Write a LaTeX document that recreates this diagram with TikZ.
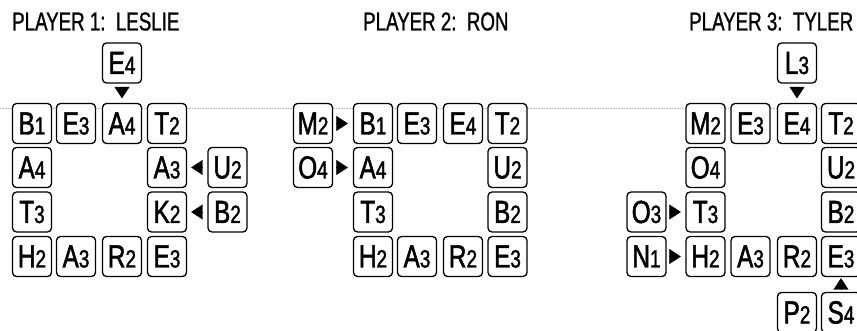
\documentclass[tikz,border=0pt]{standalone}
\usepackage{fontspec}
\setmainfont{Liberation Sans}
\newfontfamily\cond[FakeStretch=0.76,FakeBold=1.5]{Liberation Sans}
\newfontfamily\condt[FakeStretch=0.72,FakeBold=1]{Liberation Sans}
\usetikzlibrary{arrows.meta}
\newcommand{\tl}[2]{{\fontsize{32}{32}\selectfont #1}{\fontsize{25}{25}\selectfont #2}}
\tikzset{
  tile/.style={draw, line width=1.3pt, rounded corners=4pt, minimum width=39pt,
    minimum height=40pt, inner sep=0pt, fill=white, font=\cond,
    text height=22pt, text depth=0pt},
  title/.style={anchor=base west, inner sep=0pt, font=\condt\fontsize{26}{26}\selectfont},
  tri/.style={-{Triangle[length=11.5pt,width=15pt]}, line width=0.4pt},
  scanline/.style={gray!55, densely dotted, line width=0.6pt}
}
\begin{document}
\begin{tikzpicture}[x=1pt,y=-1pt]
\useasboundingbox (0,0) rectangle (857,331);
\clip (0,0) rectangle (857,331);
\def\ra{123.5}\def\rb{167.5}\def\rc{212}\def\rd{256.5}
% scan line
\coordinate (sl) at (0,108);
\coordinate (sr) at (857,108);
\draw[scanline] (sl) -- (sr);
% titles
\node[title] (t1) at (12,30.5) {PLAYER 1:\ \ LESLIE};
\node[title] (t2) at (363,30.5) {PLAYER 2:\ \ RON};
\node[title] (t3) at (689,30.5) {PLAYER 3:\ \ TYLER};
% Player 1
\node[tile] (p1e4) at (122,63) {\tl{E}{4}};
\node[tile] (p1b1) at (32,\ra) {\tl{B}{1}};
\node[tile] (p1e3) at (76,\ra) {\tl{E}{3}};
\node[tile] (p1a4) at (122,\ra) {\tl{A}{4}};
\node[tile] (p1t2) at (167,\ra) {\tl{T}{2}};
\node[tile] (p1a4b) at (32,\rb) {\tl{A}{4}};
\node[tile] (p1a3) at (167,\rb) {\tl{A}{3}};
\node[tile] (p1u2) at (227.5,\rb) {\tl{U}{2}};
\node[tile] (p1t3) at (32,\rc) {\tl{T}{3}};
\node[tile] (p1k2) at (167,\rc) {\tl{K}{2}};
\node[tile] (p1b2) at (227.5,\rc) {\tl{B}{2}};
\node[tile] (p1h2) at (32,\rd) {\tl{H}{2}};
\node[tile] (p1a3b) at (76,\rd) {\tl{A}{3}};
\node[tile] (p1r2) at (122,\rd) {\tl{R}{2}};
\node[tile] (p1e3b) at (167,\rd) {\tl{E}{3}};
\draw[tri, shorten <=5pt, shorten >=4.5pt] (p1e4) -- (p1a4);
\draw[tri, shorten <=6pt, shorten >=4pt] (p1u2) -- (p1a3);
\draw[tri, shorten <=6pt, shorten >=4pt] (p1b2) -- (p1k2);
% Player 2
\node[tile] (p2m2) at (313,\ra) {\tl{M}{2}};
\node[tile] (p2b1) at (373,\ra) {\tl{B}{1}};
\node[tile] (p2e3) at (417,\ra) {\tl{E}{3}};
\node[tile] (p2e4) at (463,\ra) {\tl{E}{4}};
\node[tile] (p2t2) at (507.5,\ra) {\tl{T}{2}};
\node[tile] (p2o4) at (313,\rb) {\tl{O}{4}};
\node[tile] (p2a4) at (373,\rb) {\tl{A}{4}};
\node[tile] (p2u2) at (507.5,\rb) {\tl{U}{2}};
\node[tile] (p2t3) at (373,\rc) {\tl{T}{3}};
\node[tile] (p2b2) at (507.5,\rc) {\tl{B}{2}};
\node[tile] (p2h2) at (373,\rd) {\tl{H}{2}};
\node[tile] (p2a3) at (417,\rd) {\tl{A}{3}};
\node[tile] (p2r2) at (463,\rd) {\tl{R}{2}};
\node[tile] (p2e3b) at (507.5,\rd) {\tl{E}{3}};
\draw[tri, shorten <=3pt, shorten >=5pt] (p2m2) -- (p2b1);
\draw[tri, shorten <=3pt, shorten >=5pt] (p2o4) -- (p2a4);
% Player 3
\node[tile] (p3l3) at (797,63) {\tl{L}{3}};
\node[tile] (p3m2) at (705.5,\ra) {\tl{M}{2}};
\node[tile] (p3e3) at (750.5,\ra) {\tl{E}{3}};
\node[tile] (p3e4) at (797,\ra) {\tl{E}{4}};
\node[tile] (p3t2) at (841,\ra) {\tl{T}{2}};
\node[tile] (p3o4) at (705.5,\rb) {\tl{O}{4}};
\node[tile] (p3u2) at (841,\rb) {\tl{U}{2}};
\node[tile] (p3o3) at (646.5,\rc) {\tl{O}{3}};
\node[tile] (p3t3) at (705.5,\rc) {\tl{T}{3}};
\node[tile] (p3b2) at (841,\rc) {\tl{B}{2}};
\node[tile] (p3n1) at (646.5,\rd) {\tl{N}{1}};
\node[tile] (p3h2) at (705.5,\rd) {\tl{H}{2}};
\node[tile] (p3a3) at (750.5,\rd) {\tl{A}{3}};
\node[tile] (p3r2) at (797,\rd) {\tl{R}{2}};
\node[tile] (p3e3b) at (841,\rd) {\tl{E}{3}};
\node[tile] (p3p2) at (797,312.5) {\tl{P}{2}};
\node[tile] (p3s4) at (841,312.5) {\tl{S}{4}};
\draw[tri, shorten <=5pt, shorten >=4.5pt] (p3l3) -- (p3e4);
\draw[tri, shorten <=4pt, shorten >=4.5pt] (p3o3) -- (p3t3);
\draw[tri, shorten <=4pt, shorten >=4.5pt] (p3n1) -- (p3h2);
\draw[tri, shorten <=4pt, shorten >=1pt] (p3s4) -- (p3e3b);
\end{tikzpicture}
\end{document}
